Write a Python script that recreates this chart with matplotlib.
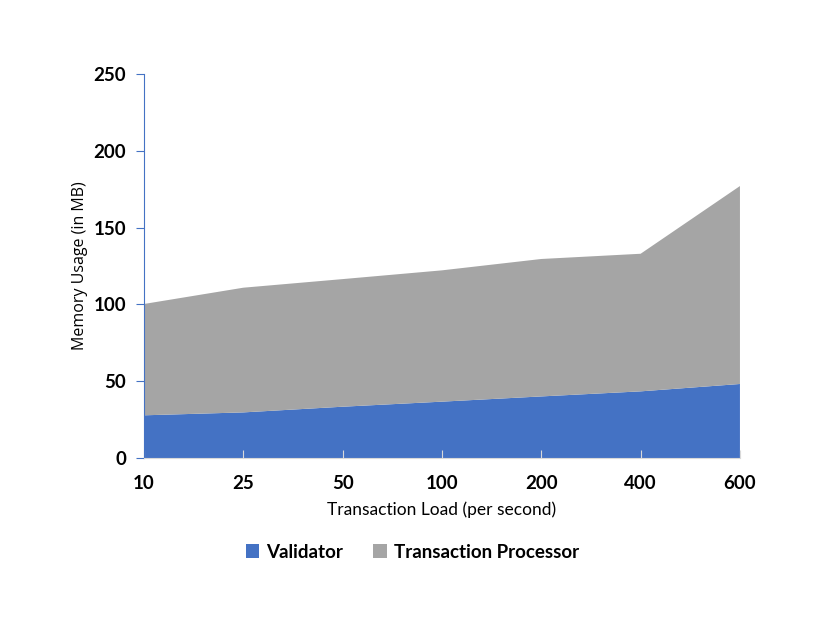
import matplotlib
matplotlib.use("Agg")
import matplotlib.pyplot as plt
from matplotlib.patches import Patch
import numpy as np

loads = ["10", "25", "50", "100", "200", "400", "600"]
validator = [27.8, 29.7, 33.4, 36.7, 40.1, 43.4, 48.2]
processor = [72.5, 81.2, 83.1, 85.5, 89.5, 89.6, 128.9]
yticks = [0, 50, 100, 150, 200, 250]

blue = "#4472C4"
gray = "#A5A5A5"

fig = plt.figure(figsize=(8.3, 6.42), dpi=100)
ax = fig.add_axes([0.1735, 0.2866, 0.718, 0.598])
x = np.arange(len(loads))
ax.stackplot(x, validator, processor, colors=[blue, gray], linewidth=0)
ax.set_xlim(0, len(loads) - 1)
ax.set_ylim(0, 250)
ax.set_yticks(yticks)
ax.set_xticks(x)
ax.set_xticklabels(loads)

for s in ["top", "right"]:
    ax.spines[s].set_visible(False)
ax.spines["left"].set_color(blue)
ax.spines["left"].set_linewidth(0.8)
ax.spines["bottom"].set_color("#D9D9D9")
ax.spines["bottom"].set_linewidth(0.8)
ax.spines["bottom"].set_zorder(3)

ax.tick_params(axis="y", direction="out", length=6, color=blue, width=0.8, pad=7)
ax.tick_params(axis="x", direction="in", length=6, color="#D9D9D9", width=0.8, pad=12)
for lbl in ax.get_xticklabels() + ax.get_yticklabels():
    lbl.set_fontfamily("Lato")
    lbl.set_fontweight("bold")
    lbl.set_fontsize(13.5)
    lbl.set_color("#000000")

ax.set_xlabel("Transaction Load (per second)", fontfamily="Lato", fontsize=12.5, labelpad=7)
ax.set_ylabel("Memory Usage (in MB)", fontfamily="Open Sans", fontsize=11.5, labelpad=4)

handles = [Patch(facecolor=blue, label="Validator"), Patch(facecolor=gray, label="Transaction Processor")]
fig.legend(handles=handles, loc="center", bbox_to_anchor=(0.497, 0.14), ncol=2, frameon=False,
           prop={"family": "Lato", "weight": "bold", "size": 13.5},
           handlelength=0.7, handleheight=0.7, handletextpad=0.4, columnspacing=1.6)

fig.savefig("out.png", dpi=100)
